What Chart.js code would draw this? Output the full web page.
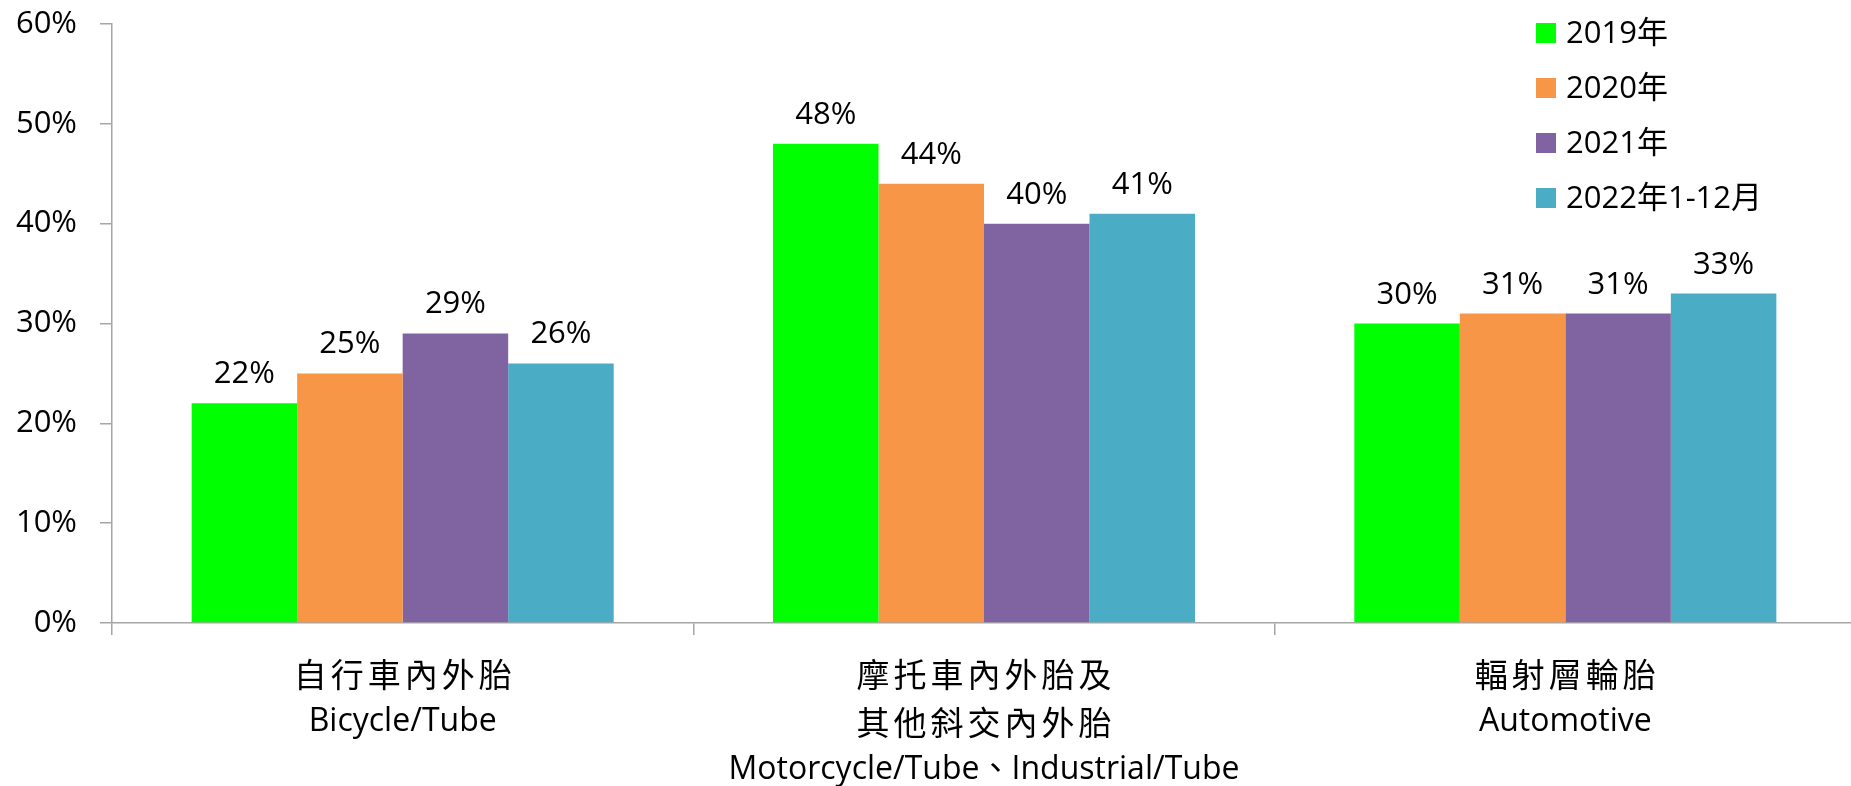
<!DOCTYPE html>
<html>
<head>
<meta charset="utf-8">
<script src="https://cdn.jsdelivr.net/npm/chart.js@4"></script>
<style>
  html, body { margin: 0; padding: 0; background: #fff; overflow: hidden; }
  #wrap { position: relative; width: 1856px; height: 786px; }
</style>
</head>
<body>
<div id="wrap"><canvas id="chart"></canvas></div>
<script>
// Categories (Chinese lines + English line)
const categoriesZh = [
  ['自行車內外胎'],
  ['摩托車內外胎及', '其他斜交內外胎'],
  ['輻射層輪胎']
];
const categoriesEn = ['Bicycle/Tube', 'Motorcycle/Tube、Industrial/Tube', 'Automotive'];

// Series names
const seriesNames = ['2019年', '2020年', '2021年', '2022年1-12月'];

// Share values (%)
const values2019 = [22, 48, 30];
const values2020 = [25, 44, 31];
const values2021 = [29, 40, 31];
const values2022 = [26, 41, 33];

// Y axis ticks (%)
const yTicks = [0, 10, 20, 30, 40, 50, 60];

const seriesColors = ['#00FF00', '#F79646', '#8064A2', '#4BACC6'];

const labels = categoriesZh.map((zh, i) => [...zh, categoriesEn[i]]);
const seriesValues = [values2019, values2020, values2021, values2022];

const AXIS_GRAY = '#a6a6a6';
const LATIN_FONT = '"Open Sans", "Noto Sans CJK TC", sans-serif';

// Value labels above each bar
const valueLabels = {
  id: 'valueLabels',
  afterDatasetsDraw(chart) {
    const ctx = chart.ctx;
    ctx.save();
    ctx.font = '31px ' + LATIN_FONT;
    ctx.fillStyle = '#000';
    ctx.textAlign = 'center';
    ctx.textBaseline = 'alphabetic';
    chart.data.datasets.forEach((ds, di) => {
      const meta = chart.getDatasetMeta(di);
      meta.data.forEach((bar, i) => {
        ctx.fillText(ds.data[i] + '%', bar.x, bar.y - 20);
      });
    });
    ctx.restore();
  }
};

// Multi-line category labels under the x axis
const categoryLabels = {
  id: 'categoryLabels',
  afterDraw(chart) {
    const ctx = chart.ctx;
    const xs = chart.scales.x;
    const top = chart.chartArea.bottom;
    ctx.save();
    ctx.fillStyle = '#000';
    ctx.textAlign = 'center';
    ctx.textBaseline = 'middle';
    chart.data.labels.forEach((lines, i) => {
      const cx = xs.getPixelForTick(i);
      lines.forEach((line, li) => {
        const y = top + 51 + li * 48;
        if (/[A-Za-z]/.test(line)) {
          ctx.font = '32px ' + LATIN_FONT;
          ctx.letterSpacing = '0px';
          ctx.fillText(line, cx, y);
        } else {
          ctx.font = '33px "Noto Sans CJK TC", sans-serif';
          ctx.letterSpacing = '4px';
          ctx.fillText(line, cx + 2, y);
        }
      });
    });
    ctx.letterSpacing = '0px';
    ctx.restore();
  }
};

// Vertical legend in the top-right corner
const sideLegend = {
  id: 'sideLegend',
  afterDraw(chart) {
    const ctx = chart.ctx;
    ctx.save();
    ctx.font = '31px ' + LATIN_FONT;
    ctx.textAlign = 'left';
    ctx.textBaseline = 'middle';
    chart.data.datasets.forEach((ds, i) => {
      const cy = 33 + i * 55;
      ctx.fillStyle = ds.backgroundColor;
      ctx.fillRect(1536, cy - 10, 20, 20);
      ctx.fillStyle = '#000';
      ctx.fillText(ds.label, 1566, cy + 1);
    });
    ctx.restore();
  }
};

new Chart(document.getElementById('chart'), {
  type: 'bar',
  data: {
    labels: labels,
    datasets: seriesNames.map((name, i) => ({
      label: name,
      data: seriesValues[i],
      backgroundColor: seriesColors[i],
      borderWidth: 0,
      categoryPercentage: 0.726,
      barPercentage: 1.0
    }))
  },
  options: {
    responsive: true,
    maintainAspectRatio: false,
    animation: false,
    devicePixelRatio: 1,
    layout: { padding: { top: 24, right: 0, bottom: 0, left: 0 } },
    plugins: {
      legend: { display: false },
      tooltip: { enabled: false }
    },
    scales: {
      x: {
        offset: true,
        grid: {
          offset: true,
          drawOnChartArea: false,
          drawTicks: true,
          tickLength: 12,
          color: AXIS_GRAY,
          lineWidth: 1.5
        },
        border: { display: true, color: AXIS_GRAY, width: 1.5 },
        ticks: { display: false },
        afterFit(scale) { scale.height = 163; }
      },
      y: {
        min: yTicks[0],
        max: yTicks[yTicks.length - 1],
        afterBuildTicks(scale) { scale.ticks = yTicks.map(v => ({ value: v })); },
        grid: {
          drawOnChartArea: false,
          drawTicks: true,
          tickLength: 12,
          color: AXIS_GRAY,
          lineWidth: 1.5
        },
        border: { display: true, color: AXIS_GRAY, width: 1.5 },
        ticks: {
          padding: 23,
          color: '#000',
          font: { family: LATIN_FONT, size: 31 },
          callback: v => v + '%'
        },
        afterFit(scale) {
          scale.width = 112;
          scale.paddingTop = 0;
          scale.paddingBottom = 0;
        }
      }
    }
  },
  plugins: [valueLabels, categoryLabels, sideLegend]
});
</script>
</body>
</html>
